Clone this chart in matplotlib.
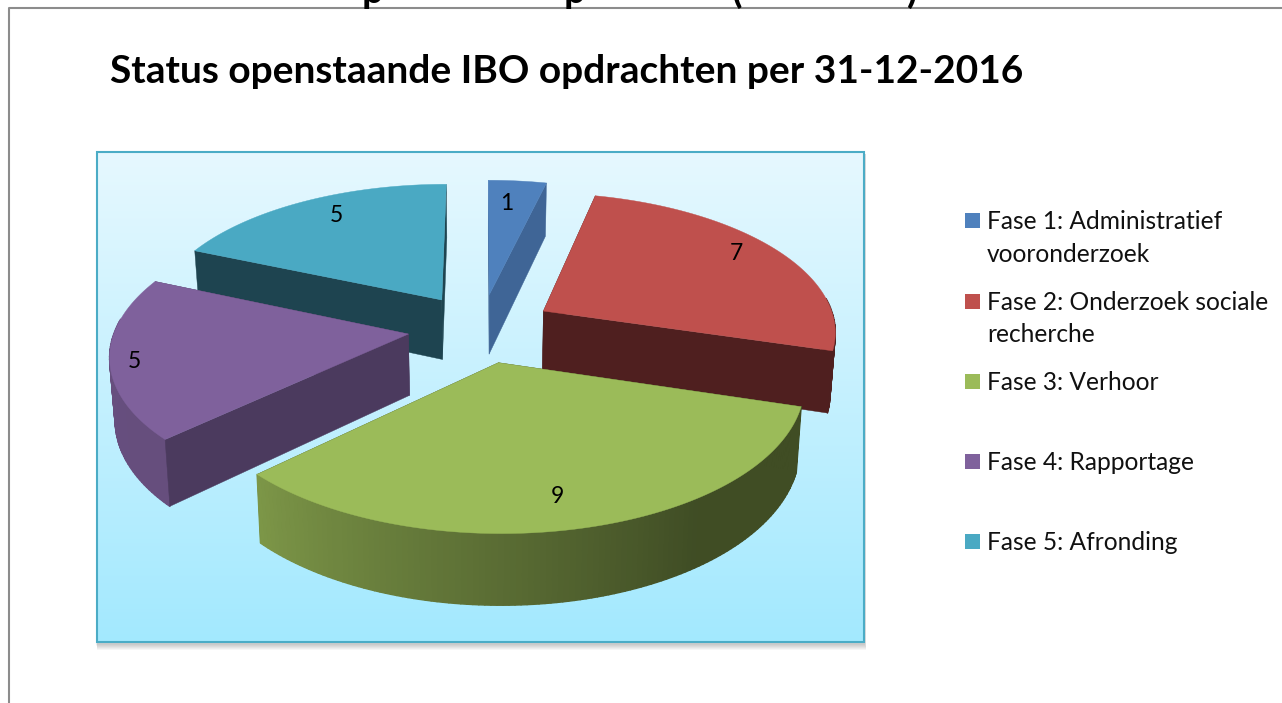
import numpy as np
import matplotlib
matplotlib.use("Agg")
import matplotlib.pyplot as plt
from matplotlib.colors import to_rgb, LinearSegmentedColormap
from matplotlib.patches import Polygon, Rectangle

W, H = 1282, 703
FONT = "Lato"

title = "Status openstaande IBO opdrachten per 31-12-2016"
categories = ["Fase 1: Administratief\nvooronderzoek",
              "Fase 2: Onderzoek sociale\nrecherche",
              "Fase 3: Verhoor",
              "Fase 4: Rapportage",
              "Fase 5: Afronding"]
values = [1, 7, 9, 5, 5]
colors = ["#4f81bd", "#bf504d", "#9bbb59", "#7f619c", "#4aa9c3"]
wall_colors = ["#3f6596", "#4f1f1f", "#3f4a22", "#4b3a5e", "#1e4450"]
legend_baselines = [229, 310, 390, 470, 550]
cut_off_glyphs = [("p", 372), ("p", 575), ("(", 737), (")", 912)]

# projection of the tilted pie
CX, CY = 481, 328
RX, RY = 293, 138
PERSP = 0.133
EXPLODE = 0.25
DEPTH, DEPTH_PERSP = 61, 0.12
BOTTOM_SHRINK = 0.985
LABEL_R = [0.80, 0.84, 0.84, 0.91, 0.83]
LABEL_NUDGE = [(-6, 2), (-3, -4), (-9, -2), (-3, 5), (11, -1)]


def project(u, v):
    s = 1 + PERSP * v
    return CX + RX * u / s, CY - RY * v / s


def project_low(u, v):
    x, y = project(u, v)
    return CX + (x - CX) * BOTTOM_SHRINK, y + DEPTH / (1 + DEPTH_PERSP * v)


def shade(deg):
    return np.interp(deg, [145, 226, 300], [0.41, 0.80, 0.82])


fig = plt.figure(figsize=(W / 100, H / 100), dpi=100, facecolor="white")
ax = fig.add_axes([0, 0, 1, 1])
ax.set_xlim(0, W)
ax.set_ylim(H, 0)
ax.axis("off")

# page frame and the cut-off heading above it
ax.plot([9, 9, W], [H, 8, 8], color="#8c8c8c", lw=1.5, zorder=1)
for ch, x in cut_off_glyphs:
    ax.text(x, 3, ch, fontsize=27.5, fontweight="bold", family=FONT,
            ha="center", va="baseline", clip_on=True, zorder=1)

ax.text(110, 83, title, fontsize=28, fontweight="bold", family=FONT,
        ha="left", va="baseline", color="black")

# chart panel
PL, PT, PR, PB = 97, 152, 864, 642
for i in range(1, 7):
    ax.add_patch(Rectangle((PL - 1 + i * 0.2, PT + 2), PR - PL + 2, PB - PT + i * 1.0,
                           fc="black", ec="none", alpha=0.035, zorder=2))
cmap = LinearSegmentedColormap.from_list("panel", ["#e6f8fe", "#a3e9ff"])
ax.imshow(np.linspace(0, 1, 256).reshape(-1, 1), cmap=cmap, extent=(PL, PR, PB, PT),
          aspect="auto", zorder=3)
ax.set_xlim(0, W)
ax.set_ylim(H, 0)
ax.add_patch(Rectangle((PL, PT), PR - PL, PB - PT, fc="none", ec="#4bacc6", lw=1.5, zorder=4))

# slices
vals = np.array(values, float)
edges = np.concatenate([[0], np.cumsum(vals)]) / vals.sum() * 360
mids = (edges[:-1] + edges[1:]) / 2
order = [4, 0, 1, 3, 2]  # back to front
z = 5.0


def add_poly(pts, fc, lw=0.3):
    global z
    z += 0.001
    ax.add_patch(Polygon(pts, closed=True, fc=fc, ec=fc, lw=lw, zorder=z, joinstyle="round"))


for i in order:
    a0, a1, m = edges[i], edges[i + 1], mids[i]
    ou = EXPLODE * np.sin(np.radians(m))
    ov = EXPLODE * np.cos(np.radians(m))
    ang = np.linspace(a0, a1, max(int(a1 - a0), 6) + 1)
    us = ou + np.sin(np.radians(ang))
    vs = ov + np.cos(np.radians(ang))
    base = np.array(to_rgb(colors[i]))

    apex_t, apex_l = project(ou, ov), project_low(ou, ov)

    def radial_wall(a):
        rim_u = ou + np.sin(np.radians(a))
        rim_v = ov + np.cos(np.radians(a))
        add_poly([apex_t, project(rim_u, rim_v), project_low(rim_u, rim_v), apex_l],
                 wall_colors[i])

    walls = [(a0, a0 - 90), (a1, a1 + 90)]
    # walls that face away go under the curved wall, the others over it
    for a, n in walls:
        if np.cos(np.radians(n)) > 0:
            radial_wall(a)

    for k in range(len(ang) - 1):
        mid_a = (ang[k] + ang[k + 1]) / 2
        if np.cos(np.radians(mid_a)) < 0.1:
            pts = [project(us[k], vs[k]), project(us[k + 1], vs[k + 1]),
                   project_low(us[k + 1], vs[k + 1]), project_low(us[k], vs[k])]
            add_poly(pts, tuple(base * shade(mid_a)), lw=1.0)

    for a, n in walls:
        if np.cos(np.radians(n)) <= 0:
            radial_wall(a)

    top = [apex_t] + [project(u, v) for u, v in zip(us, vs)]
    add_poly(top, colors[i])

    rho = LABEL_R[i]
    lx, ly = project(ou + rho * np.sin(np.radians(m)), ov + rho * np.cos(np.radians(m)))
    ax.text(lx + LABEL_NUDGE[i][0], ly + LABEL_NUDGE[i][1], str(values[i]), fontsize=16.5,
            family=FONT, ha="center", va="center", color="black", zorder=20)

# legend
for name, col, base_y in zip(categories, colors, legend_baselines):
    ax.add_patch(Rectangle((965, base_y - 16), 15, 15, fc=col, ec="none", zorder=6))
    for j, line in enumerate(name.split("\n")):
        ax.text(987, base_y + j * 32.5, line, fontsize=17.65, family=FONT, ha="left",
                va="baseline", color="#111111", zorder=6)

fig.savefig("out.png", dpi=100)
